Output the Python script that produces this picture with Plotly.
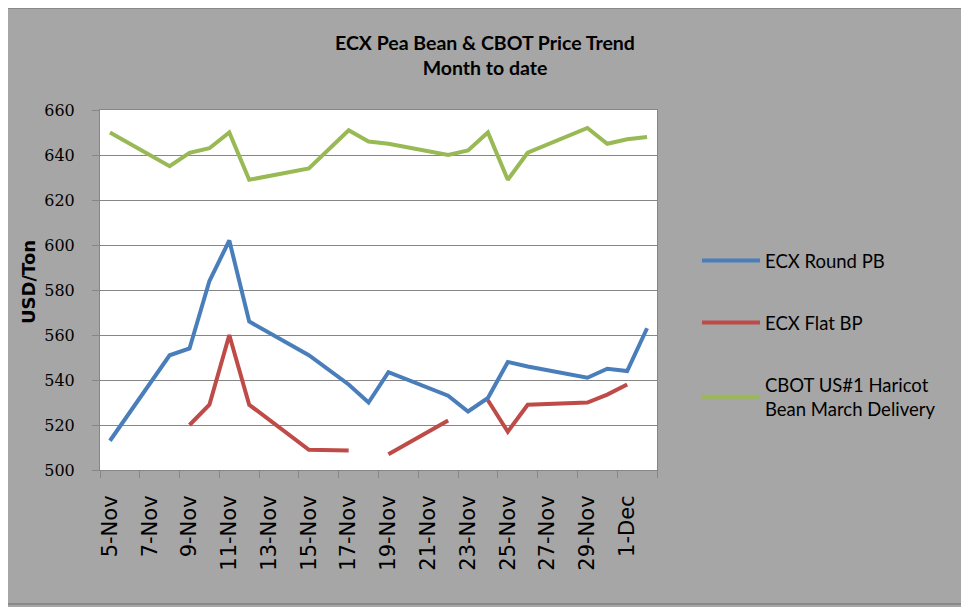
import plotly.graph_objects as go

dates = ["2010-11-05", "2010-11-08", "2010-11-09", "2010-11-10", "2010-11-11", "2010-11-12",
         "2010-11-15", "2010-11-17", "2010-11-18", "2010-11-19", "2010-11-22", "2010-11-23",
         "2010-11-24", "2010-11-25", "2010-11-26", "2010-11-29", "2010-11-30", "2010-12-01",
         "2010-12-02"]
ecx_round_pb = [513, 551, 554, 584, 602, 566, 551, 538, 530, 543.5, 533, 526, 532, 548, 546,
                541, 545, 544, 563]
ecx_flat_bp = [None, None, 520, 529, 560, 529, 509, 508.7, None, 507, 522, None, 531, 517, 529,
               530, 533.5, 538, None]
cbot_haricot = [650, 635, 641, 643, 650, 629, 634, 651, 646, 645, 640, 642, 650, 629, 641,
                652, 645, 647, 648]

series_names = ["ECX Round PB", "ECX Flat BP", "CBOT US#1 Haricot<br>Bean March Delivery"]
series_colors = ["#4A7EBB", "#BE4B48", "#98B954"]

title_lines = ["ECX Pea Bean & CBOT Price Trend", "Month to date"]
y_title = "USD/Ton"
y_range = [500, 660]
y_step = 20
x_range = ["2010-11-04 12:00", "2010-12-02 12:00"]
x_label_start = "2010-11-05"
x_tick_start = "2010-11-04 12:00"
DAY_MS = 86400000

fig = go.Figure()
for i, (name, vals) in enumerate(zip(series_names, [ecx_round_pb, ecx_flat_bp, cbot_haricot])):
    fig.add_trace(go.Scatter(
        x=dates, y=vals, name=name, mode="lines",
        line=dict(color=series_colors[i], width=4),
        connectgaps=False, legendgroup=str(i),
    ))

# invisible trace to carry the tick-mark axis
fig.add_trace(go.Scatter(x=[dates[0]], y=[None], xaxis="x2", showlegend=False,
                         hoverinfo="skip"))

# page has an 8px body margin; work in page pixels and convert
OFF = 8
W, H = 969 - OFF, 607 - OFF
plot_l, plot_r, plot_t, plot_b = 100, 657, 110, 470  # page pixels
L, R, T, B = plot_l - OFF, W - (plot_r - OFF), plot_t - OFF, H - (plot_b - OFF)
pw, ph = plot_r - plot_l, plot_b - plot_t

def px_x(v):
    return (v - plot_l) / pw

def px_y(v):
    return (plot_b - v) / ph

fig.update_layout(
    width=W, height=H,
    margin=dict(l=L, r=R, t=T, b=B, pad=0),
    paper_bgcolor="#A6A6A6",
    plot_bgcolor="white",
    font=dict(family="Lato", color="black"),
    title=dict(
        text="<b>" + title_lines[0] + "</b><br><b>" + title_lines[1] + "</b>",
        x=(485 - OFF) / W, xanchor="center",
        y=1 - (50 - OFF) / H, yanchor="top",
        font=dict(family="Lato", size=19.5, color="black"),
    ),
    showlegend=True,
    legend=dict(
        x=px_x(697), xanchor="left",
        y=px_y(242), yanchor="top",
        bgcolor="rgba(0,0,0,0)",
        font=dict(family="Lato", size=18.5, color="black"),
        tracegroupgap=35,
        itemwidth=58,
    ),
    shapes=[
        dict(type="rect", xref="paper", yref="paper", layer="above",
             x0=px_x(7), x1=px_x(966), y0=px_y(604), y1=px_y(8),
             fillcolor="rgba(0,0,0,0)", line=dict(color="#808080", width=1.5)),
    ],
    annotations=[
        dict(text="<b>" + y_title + "</b>", xref="paper", yref="paper",
             x=px_x(28), y=px_y(282), xanchor="center", yanchor="middle",
             textangle=-90, showarrow=False,
             font=dict(family="DejaVu Sans", size=18, color="black")),
    ],
    xaxis=dict(
        type="date", range=x_range,
        tick0=x_label_start, dtick=2 * DAY_MS, tickformat="%-d-%b",
        tickangle=-90, ticks="", ticklabelstandoff=16,
        tickfont=dict(family="DejaVu Sans", size=21, color="black"),
        showgrid=False, showline=True, linecolor="#868686", linewidth=1, mirror=True,
        zeroline=False,
    ),
    xaxis2=dict(
        type="date", range=x_range, overlaying="x", side="bottom", matches="x",
        tick0=x_tick_start, dtick=2 * DAY_MS, showticklabels=False,
        ticks="outside", ticklen=7, tickcolor="#868686", tickwidth=1,
        showgrid=False, showline=False, zeroline=False,
    ),
    yaxis=dict(
        range=y_range, dtick=y_step, tick0=y_range[0],
        ticks="outside", ticklen=7, tickcolor="#868686",
        ticklabelstandoff=14,
        tickfont=dict(family="DejaVu Serif", size=16, color="black"),
        showgrid=True, gridcolor="#868686", gridwidth=1,
        showline=True, linecolor="#868686", linewidth=1, mirror=True,
        zeroline=False,
    ),
)

fig.write_html("out.html")
